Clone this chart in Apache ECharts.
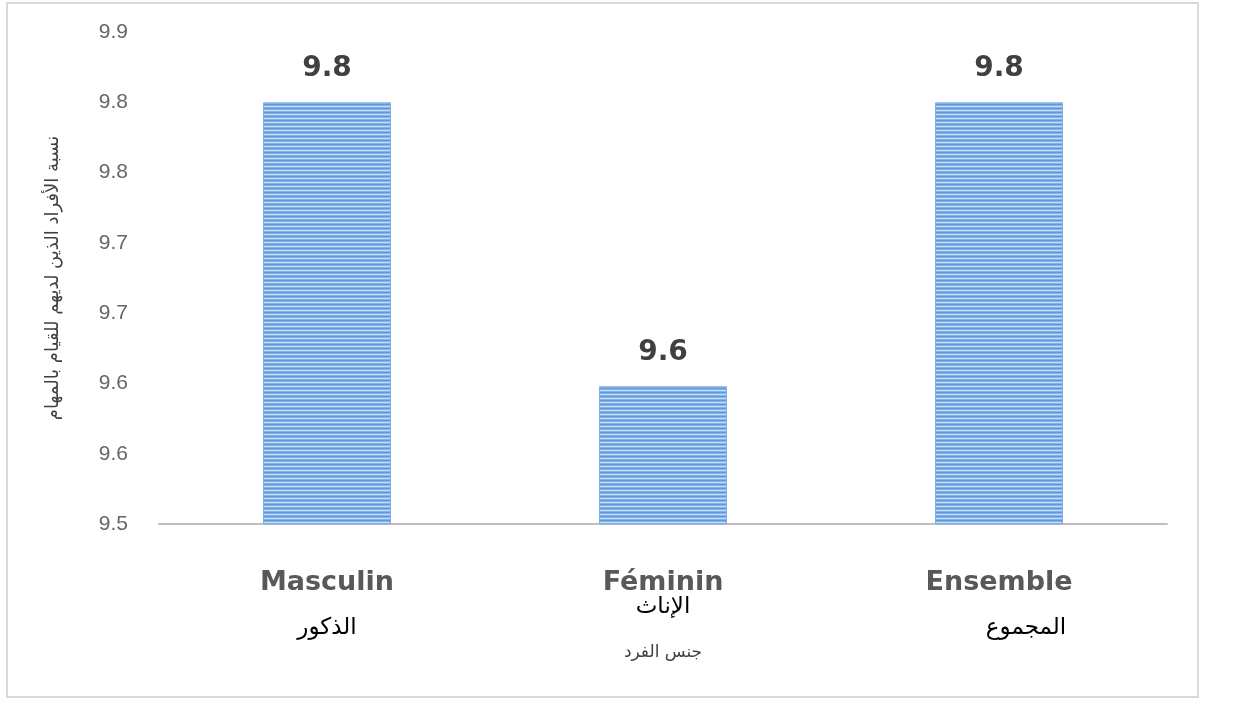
<!DOCTYPE html>
<html>
<head>
<meta charset="utf-8">
<script src="https://cdn.jsdelivr.net/npm/echarts@6/dist/echarts.min.js"></script>
<style>
    html, body { margin: 0; padding: 0; background: #fff; }
    #chart { width: 1243px; height: 702px; }
</style>
</head>
<body>
<div id="chart"></div>
<script>
const categories = ["Masculin", "Féminin", "Ensemble"]
const categoriesAr = ["الذكور", "الإناث", "المجموع"]
const values = [9.8, 9.598, 9.8]
const yTickLabels = ["9.5", "9.6", "9.6", "9.7", "9.7", "9.8", "9.8", "9.9"]
const yMin = 9.5
const yMax = 9.85
const yStep = 0.05

// striped fill for the bars
function stripes() {
    let c = document.createElement("canvas")
    c.width = 4
    c.height = 4
    let ctx = c.getContext("2d")
    let rows = ["#5e97da", "#86b4e9", "#c6dcf5", "#86b4e9"]
    rows.forEach((col, i) => {
        ctx.fillStyle = col
        ctx.fillRect(0, i, 4, 1)
    })
    return c
}

let myChart = echarts.init(document.getElementById("chart"))
myChart.setOption({
    animation: false,
    graphic: [
        {
            type: "rect",
            shape: { x: 7, y: 3, width: 1191, height: 694 },
            style: { fill: "none", stroke: "#d9d9d9", lineWidth: 2 },
            silent: true,
        },
    ],
    grid: { left: 159, right: 76, top: 32, bottom: 178, containLabel: false },
    xAxis: {
        type: "category",
        data: categories,
        name: "جنس الفرد",
        nameLocation: "middle",
        nameGap: 99,
        nameTextStyle: { fontFamily: "DejaVu Sans", fontSize: 17, color: "#404040" },
        axisLine: { lineStyle: { color: "#bfbfbf", width: 2 } },
        axisTick: { show: false },
        axisLabel: {
            margin: 44,
            interval: 0,
            formatter: (v, i) => {
                let key = i === 1 ? "ar2" : (i === 2 ? "ar3" : "ar")
                return "{en|" + v + "}\n{" + key + "|" + categoriesAr[i] + "}"
            },
            rich: {
                en: { fontFamily: "DejaVu Sans", fontWeight: "bold", fontSize: 27, color: "#595959", lineHeight: 30 },
                ar: { fontFamily: "DejaVu Sans", fontSize: 23, color: "#000", lineHeight: 60 },
                ar2: { fontFamily: "DejaVu Sans", fontSize: 23, color: "#000", lineHeight: 18 },
                ar3: { fontFamily: "DejaVu Sans", fontSize: 23, color: "#000", lineHeight: 60, padding: [0, 0, 0, 54] },
            },
        },
    },
    yAxis: {
        type: "value",
        min: yMin,
        max: yMax,
        interval: yStep,
        name: "نسبة الأفراد الذين لديهم للقيام بالمهام",
        nameLocation: "middle",
        nameGap: 97,
        nameTextStyle: { fontFamily: "DejaVu Sans", fontSize: 18, color: "#404040" },
        axisLine: { show: false },
        axisTick: { show: false },
        splitLine: { show: false },
        axisLabel: {
            margin: 31,
            fontFamily: "Liberation Sans",
            fontSize: 21,
            color: "#666666",
            formatter: (v) => yTickLabels[Math.round((v - yMin) / yStep)],
        },
    },
    series: [
        {
            type: "bar",
            barWidth: 128,
            data: values,
            itemStyle: {
                color: { image: stripes(), repeat: "repeat" },
                borderColor: "#7eaee4",
                borderWidth: 1,
            },
            label: {
                show: true,
                position: "top",
                distance: 20,
                fontFamily: "DejaVu Sans",
                fontWeight: "bold",
                fontSize: 28,
                color: "#404040",
                formatter: (p) => p.value.toFixed(1),
            },
        },
    ],
})
</script>
</body>
</html>
